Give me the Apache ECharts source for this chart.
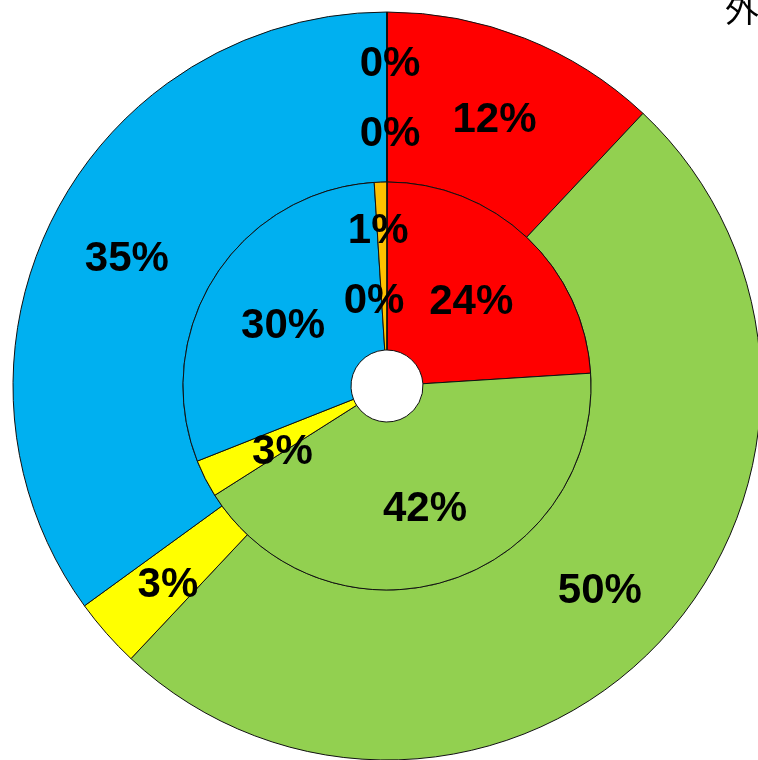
<!DOCTYPE html>
<html>
<head>
<meta charset="utf-8">
<script src="https://cdn.jsdelivr.net/npm/echarts@6/dist/echarts.min.js"></script>
<style>
  html, body { margin: 0; padding: 0; background: #fff; overflow: hidden; }
  #chart { width: 758px; height: 760px; }
</style>
</head>
<body>
<div id="chart"></div>
<script>
// Categories shared by both rings (drawn clockwise from 12 o'clock)
const categories = ['A', 'B', 'C', 'D', 'E', 'F'];
// Outer ring shares (%)
const outerValues = [12, 50, 3, 35, 0, 0];
// Inner ring shares (%)
const innerValues = [24, 42, 3, 30, 1, 0];
// Slice colours per category
const sliceColors = ['#FF0000', '#92D050', '#FFFF00', '#00B0F0', '#FFC000', '#7030A0'];

// Nudges for labels of the thin slices that would otherwise sit on top of each other
const outerLabelShift = { 4: [3, -36], 5: [3, 34] };
const innerLabelShift = { 2: [5, 5], 4: [-5, -38], 5: [-13, 32] };
const labelDrop = 6;

const labelFont = {
  show: true,
  position: 'inside',
  formatter: '{c}%',
  color: '#000',
  fontSize: 42,
  fontWeight: 'bold',
  fontFamily: '"Liberation Sans Narrow", "Arial Narrow", "Liberation Sans", Arial, sans-serif'
};

function ringData(values) {
  return categories.map((name, i) => ({
    name: name,
    value: values[i],
    itemStyle: { color: sliceColors[i] }
  }));
}

function shifter(shifts) {
  return function (params) {
    const s = shifts[params.dataIndex] || [0, 0];
    return { dx: s[0], dy: s[1] + labelDrop };
  };
}

const chart = echarts.init(document.getElementById('chart'), null, { renderer: 'canvas' });
chart.setOption({
  animation: false,
  backgroundColor: '#fff',
  graphic: [{
    type: 'text',
    left: 725,
    top: -8,
    style: {
      text: '外側',
      fill: '#000',
      font: '34px "Noto Sans CJK JP", sans-serif'
    }
  }],
  series: [
    {
      name: 'outer',
      type: 'pie',
      center: [387, 386],
      radius: [204, 374],
      startAngle: 90,
      clockwise: true,
      avoidLabelOverlap: false,
      label: labelFont,
      labelLine: { show: false },
      labelLayout: shifter(outerLabelShift),
      itemStyle: { borderColor: '#111', borderWidth: 1 },
      emphasis: { disabled: true },
      data: ringData(outerValues)
    },
    {
      name: 'inner',
      type: 'pie',
      center: [387, 386],
      radius: [36, 204],
      startAngle: 90,
      clockwise: true,
      avoidLabelOverlap: false,
      label: labelFont,
      labelLine: { show: false },
      labelLayout: shifter(innerLabelShift),
      itemStyle: { borderColor: '#111', borderWidth: 1 },
      emphasis: { disabled: true },
      data: ringData(innerValues)
    }
  ]
});
</script>
</body>
</html>
